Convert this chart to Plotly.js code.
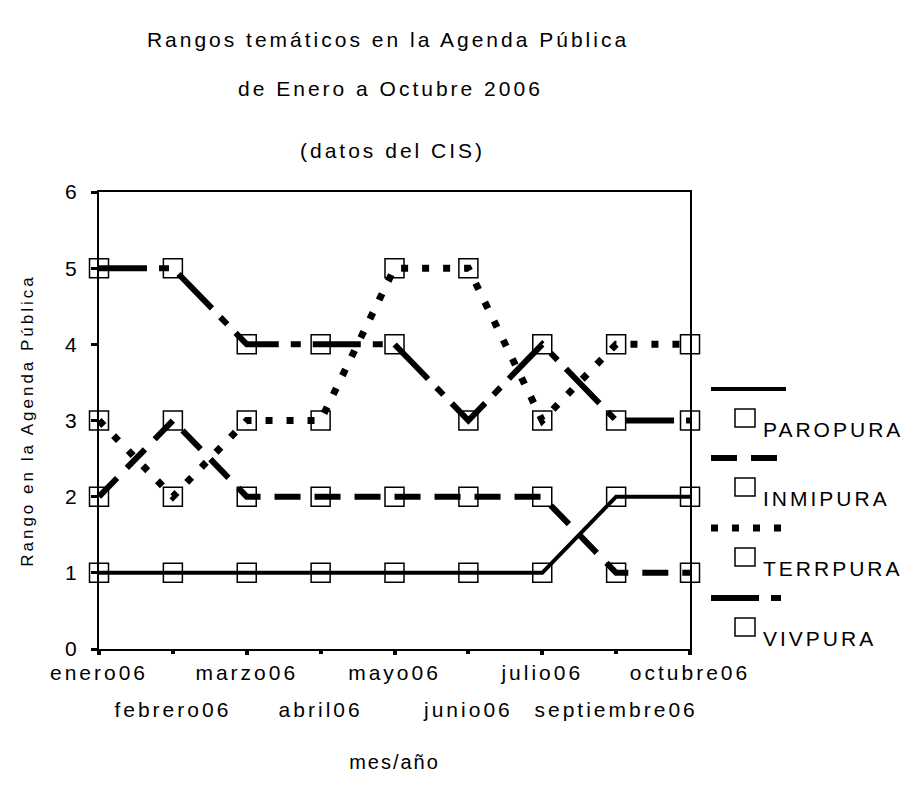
<!DOCTYPE html>
<html>
<head>
<meta charset="utf-8">
<script src="https://cdn.plot.ly/plotly-3.0.1.min.js"></script>
<style>html,body{margin:0;padding:0;background:#fff;}</style>
</head>
<body>
<div id="chart" style="width:907px;height:789px;"></div>
<script>
// ---- data ----
const categories = ['enero06','febrero06','marzo06','abril06','mayo06','junio06','julio06','septiembre06','octubre06'];
const seriesNames = ['PAROPURA','INMIPURA','TERRPURA','VIVPURA'];
const paropura = [1,1,1,1,1,1,1,2,2];
const inmipura = [2,3,2,2,2,2,2,1,1];
const terrpura = [3,2,3,3,5,5,3,4,4];
const vivpura  = [5,5,4,4,4,3,4,3,3];
const yTicks = [0,1,2,3,4,5,6];

// ---- styles ----
const FONT = 'Liberation Sans, Arial, sans-serif';
const sp = (t, s) => '<span style="letter-spacing:' + s + 'px">' + t + '</span>';
const styles = [
  {dash: 'solid', width: 4},
  {dash: '26px,14px', width: 6},
  {dash: '7px,14px', width: 7},
  {dash: '48px,12px,10px,12px', width: 6}
];
const values = [paropura, inmipura, terrpura, vivpura];

const L = 99, R = 690, T = 192, B = 649;
const px = v => (v - L) / (R - L);
const py = v => (B - v) / (B - T);

const traces = values.map((vals, i) => ({
  type: 'scatter', mode: 'lines+markers',
  x: categories, y: vals, name: seriesNames[i],
  xaxis: i === 3 ? 'x2' : 'x',
  line: {color: '#000', width: styles[i].width, dash: styles[i].dash},
  marker: {symbol: 'square-open', size: 19, color: '#000', line: {width: 1.5, color: '#000'}},
  cliponaxis: false, showlegend: false
}));

const evenCats = categories.filter((c, i) => i % 2 === 0);
const oddCats = categories.filter((c, i) => i % 2 === 1);

// custom legend (line sample above, square + name below)
const legLineY = [389, 458, 528, 598];
const shapes = [];
const annotations = [];
seriesNames.forEach((n, i) => {
  shapes.push({type: 'line', xref: 'paper', yref: 'paper',
    x0: px(711), x1: px(786), y0: py(legLineY[i]), y1: py(legLineY[i]),
    line: {color: '#000', width: styles[i].width, dash: styles[i].dash}});
  shapes.push({type: 'rect', xref: 'paper', yref: 'paper',
    x0: px(735), x1: px(755), y0: py(legLineY[i] + 20), y1: py(legLineY[i] + 38),
    line: {color: '#000', width: 1.5}, fillcolor: 'rgba(0,0,0,0)'});
  annotations.push({xref: 'paper', yref: 'paper', x: px(761), y: py(legLineY[i] + 40),
    xanchor: 'left', yanchor: 'middle', showarrow: false,
    text: sp(n, 3), font: {family: FONT, size: 21, color: '#000'}});
});
annotations.push({xref: 'paper', yref: 'paper', x: px(390), y: py(88), xanchor: 'center', yanchor: 'middle',
  showarrow: false, text: sp('de Enero a Octubre 2006', 3), font: {family: FONT, size: 21, color: '#000'}});
annotations.push({xref: 'paper', yref: 'paper', x: px(392), y: py(150), xanchor: 'center', yanchor: 'middle',
  showarrow: false, text: sp('(datos del CIS)', 3), font: {family: FONT, size: 21, color: '#000'}});

const tickFont = {family: FONT, size: 21, color: '#000'};
const layout = {
  width: 907, height: 789,
  margin: {l: L, r: 907 - R, t: T, b: 789 - B},
  paper_bgcolor: '#fff', plot_bgcolor: '#fff',
  font: {family: FONT, size: 21, color: '#000'},
  title: {text: sp('Rangos temáticos en la Agenda Pública', 3), xref: 'paper', x: px(388), xanchor: 'center',
    yref: 'container', y: 1 - 40 / 789, yanchor: 'middle', font: {family: FONT, size: 21, color: '#000'}},
  xaxis: {type: 'category', categoryorder: 'array', categoryarray: categories,
    range: [0, categories.length - 1], tickmode: 'array',
    tickvals: evenCats, ticktext: evenCats.map(c => sp(c, 3)), tickangle: 0,
    ticks: 'outside', ticklen: 4, tickwidth: 4, tickcolor: '#000',
    showline: true, linecolor: '#000', linewidth: 2, mirror: true,
    showgrid: false, zeroline: false, tickfont: tickFont,
    title: {text: sp('mes/año', 2), font: {family: FONT, size: 20, color: '#000'}, standoff: 72}},
  xaxis2: {type: 'category', categoryorder: 'array', categoryarray: categories,
    overlaying: 'x', anchor: 'y', side: 'bottom', matches: 'x',
    range: [0, categories.length - 1], tickmode: 'array',
    tickvals: oddCats, ticktext: oddCats.map(c => sp(c, 3)), tickangle: 0,
    ticks: 'outside', ticklen: 4, tickwidth: 4, tickcolor: '#000', ticklabelstandoff: 38,
    showline: false, showgrid: false, zeroline: false, tickfont: tickFont},
  yaxis: {range: [0, 6], tickmode: 'array', tickvals: yTicks, ticktext: yTicks.map(String),
    ticks: 'outside', ticklen: 6, tickwidth: 3, tickcolor: '#000',
    showline: true, linecolor: '#000', linewidth: 2, mirror: true,
    showgrid: false, zeroline: false, ticklabelstandoff: 10,
    tickfont: tickFont,
    title: {text: sp('Rango en la Agenda Pública', 3), font: {family: FONT, size: 17, color: '#000'}, standoff: 27}},
  shapes: shapes,
  annotations: annotations,
  showlegend: false
};

Plotly.newPlot('chart', traces, layout, {displayModeBar: false, staticPlot: true});
</script>
</body>
</html>
